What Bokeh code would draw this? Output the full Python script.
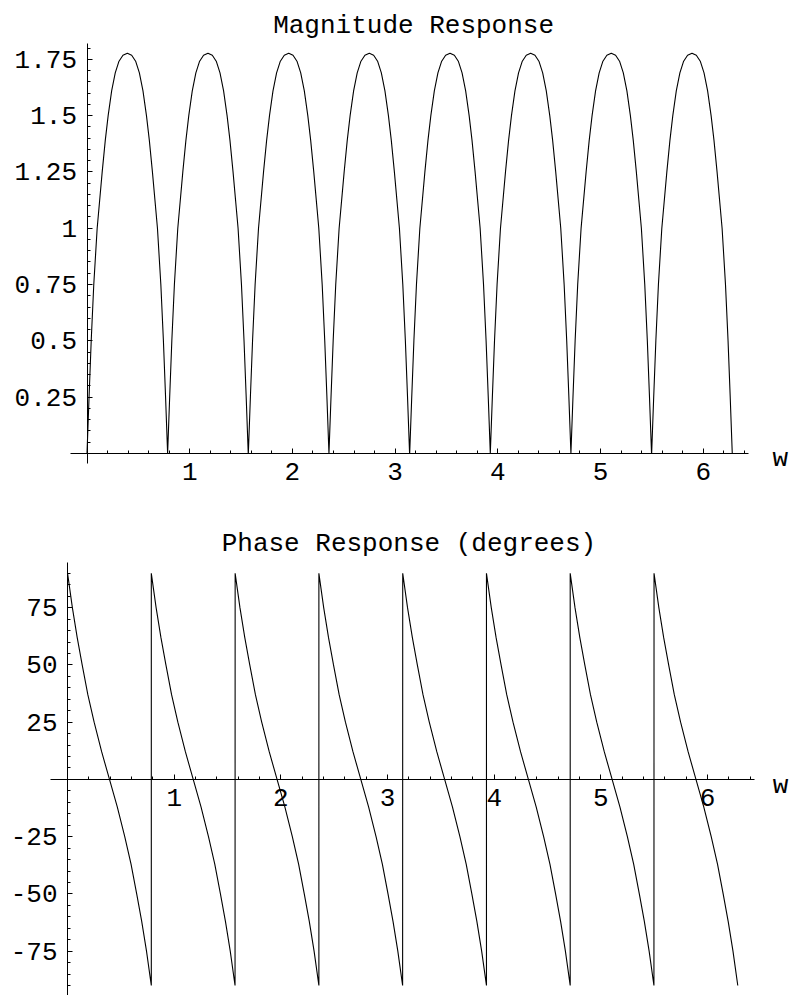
from bokeh.plotting import figure
from bokeh.models import FixedTicker, Range1d, Label
from bokeh.layouts import column
from bokeh.embed import file_html
from bokeh.resources import INLINE

FONT = "Liberation Mono"
FS = "26px"

# start of each period (zeros of the magnitude / phase jumps)
period_start = [0.0, 0.785, 1.571, 2.356, 3.142, 3.927, 4.712, 5.498]

# one lobe of the magnitude response (offset within the period, value)
mag_dw = [0.0, 0.02, 0.041, 0.066, 0.099, 0.148, 0.178, 0.206, 0.24, 0.275, 0.31, 0.35,
          0.393, 0.435, 0.475, 0.51, 0.545, 0.579, 0.607, 0.637, 0.686, 0.719, 0.744,
          0.765, 0.785]
mag_val = [0.0, 0.25, 0.5, 0.75, 1.0, 1.25, 1.39, 1.5, 1.61, 1.69, 1.74, 1.768,
           1.777, 1.768, 1.74, 1.69, 1.61, 1.5, 1.39, 1.25, 1.0, 0.75, 0.5,
           0.25, 0.0]

# one period of the phase response (degrees)
ph_dw = [0.0, 0.045, 0.09, 0.137, 0.19, 0.249, 0.32, 0.393, 0.466, 0.536, 0.595,
         0.648, 0.695, 0.74, 0.785]
ph_val = [90, 75, 62, 50, 37, 25, 12, 0, -12, -25, -37, -50, -62, -75, -90]

x_major = [1, 2, 3, 4, 5, 6]
x_minor = [round(0.2 * i, 1) for i in range(1, 33) if i % 5 != 0]
mag_major = [0.25, 0.5, 0.75, 1.0, 1.25, 1.5, 1.75]
mag_labels = ["0.25", "0.5", "0.75", "1", "1.25", "1.5", "1.75"]
mag_minor = [round(0.05 * i, 2) for i in range(1, 37) if i % 5 != 0]
ph_major = [-75, -50, -25, 25, 50, 75]
ph_labels = ["-75", "-50", "-25", "25", "50", "75"]
ph_minor = [5 * i for i in range(-18, 19) if i % 5 != 0]

# plotted extents of the axes (plot range incl. padding)
x_bounds = (-0.16, 6.44)
mag_bounds = (-0.045, 1.82)
ph_bounds = (-94.5, 94.8)

mag_x, mag_y = [], []
for s in period_start:
    mag_x += [s + d for d in mag_dw]
    mag_y += mag_val
ph_x, ph_y = [], []
for s in period_start:
    ph_x += [s + d for d in ph_dw]
    ph_y += ph_val

W = 789


def make_fig(h, x0_px, xscale, y0_px, yscale):
    # whole figure is the frame; ranges chosen so data origin lands at (x0_px, y0_px)
    xr = Range1d(-x0_px / xscale, (W - x0_px) / xscale)
    yr = Range1d(-(h - y0_px) / yscale, y0_px / yscale)
    p = figure(frame_width=W, frame_height=h, x_range=xr, y_range=yr,
               output_backend="svg", toolbar_location=None,
               min_border_left=0, min_border_right=0, min_border_top=0, min_border_bottom=0)
    p.xgrid.visible = False
    p.ygrid.visible = False
    p.outline_line_color = None
    p.background_fill_color = "white"
    p.border_fill_color = "white"
    return p


def style(p, ybounds, ymajor, ylabels, yminor):
    for ax in (p.xaxis[0], p.yaxis[0]):
        ax.fixed_location = 0
        ax.axis_line_color = "black"
        ax.axis_line_width = 1
        ax.major_tick_line_color = "black"
        ax.minor_tick_line_color = "black"
        ax.major_tick_out = 0
        ax.minor_tick_out = 0
        ax.major_tick_in = 5
        ax.minor_tick_in = 3
        ax.major_label_text_font = FONT
        ax.major_label_text_font_size = FS
        ax.major_label_text_color = "black"
        ax.major_label_standoff = 10
    p.xaxis[0].bounds = x_bounds
    p.yaxis[0].bounds = ybounds
    p.xaxis[0].ticker = FixedTicker(ticks=x_major, minor_ticks=x_minor)
    p.yaxis[0].ticker = FixedTicker(ticks=ymajor, minor_ticks=yminor)
    p.xaxis[0].major_label_overrides = {float(v): str(v) for v in x_major}
    p.yaxis[0].major_label_overrides = {float(v): t for v, t in zip(ymajor, ylabels)}


# top: figure at page y 0..520 ; data origin at (86.5, 452.9) px
p1 = make_fig(520, 86.5, 102.7, 452.9, 225.2)
style(p1, mag_bounds, mag_major, mag_labels, mag_minor)
p1.line(mag_x, mag_y, line_color="black", line_width=1.1)
p1.add_layout(Label(x=3.18, y=1.90, text="Magnitude Response", text_font=FONT,
                    text_font_size=FS, text_align="center", text_baseline="alphabetic",
                    text_color="black"))
p1.add_layout(Label(x=6.675, y=-0.027, text="w", text_font=FONT, text_font_size=FS,
                    text_align="left", text_baseline="alphabetic", text_color="black"))

# bottom: figure at page y 520..995 ; data origin at (67.07, 258.9) px inside it
p2 = make_fig(475, 67.07, 106.67, 258.9, 2.29)
style(p2, ph_bounds, ph_major, ph_labels, ph_minor)
p2.line(ph_x, ph_y, line_color="black", line_width=1.1)
p2.add_layout(Label(x=3.2, y=103.0, text="Phase Response (degrees)", text_font=FONT,
                    text_font_size=FS, text_align="center", text_baseline="alphabetic",
                    text_color="black"))
p2.add_layout(Label(x=6.61, y=-2.75, text="w", text_font=FONT, text_font_size=FS,
                    text_align="left", text_baseline="alphabetic", text_color="black"))

layout = column(p1, p2, spacing=0)
open("out.html", "w").write(file_html(layout, INLINE))
